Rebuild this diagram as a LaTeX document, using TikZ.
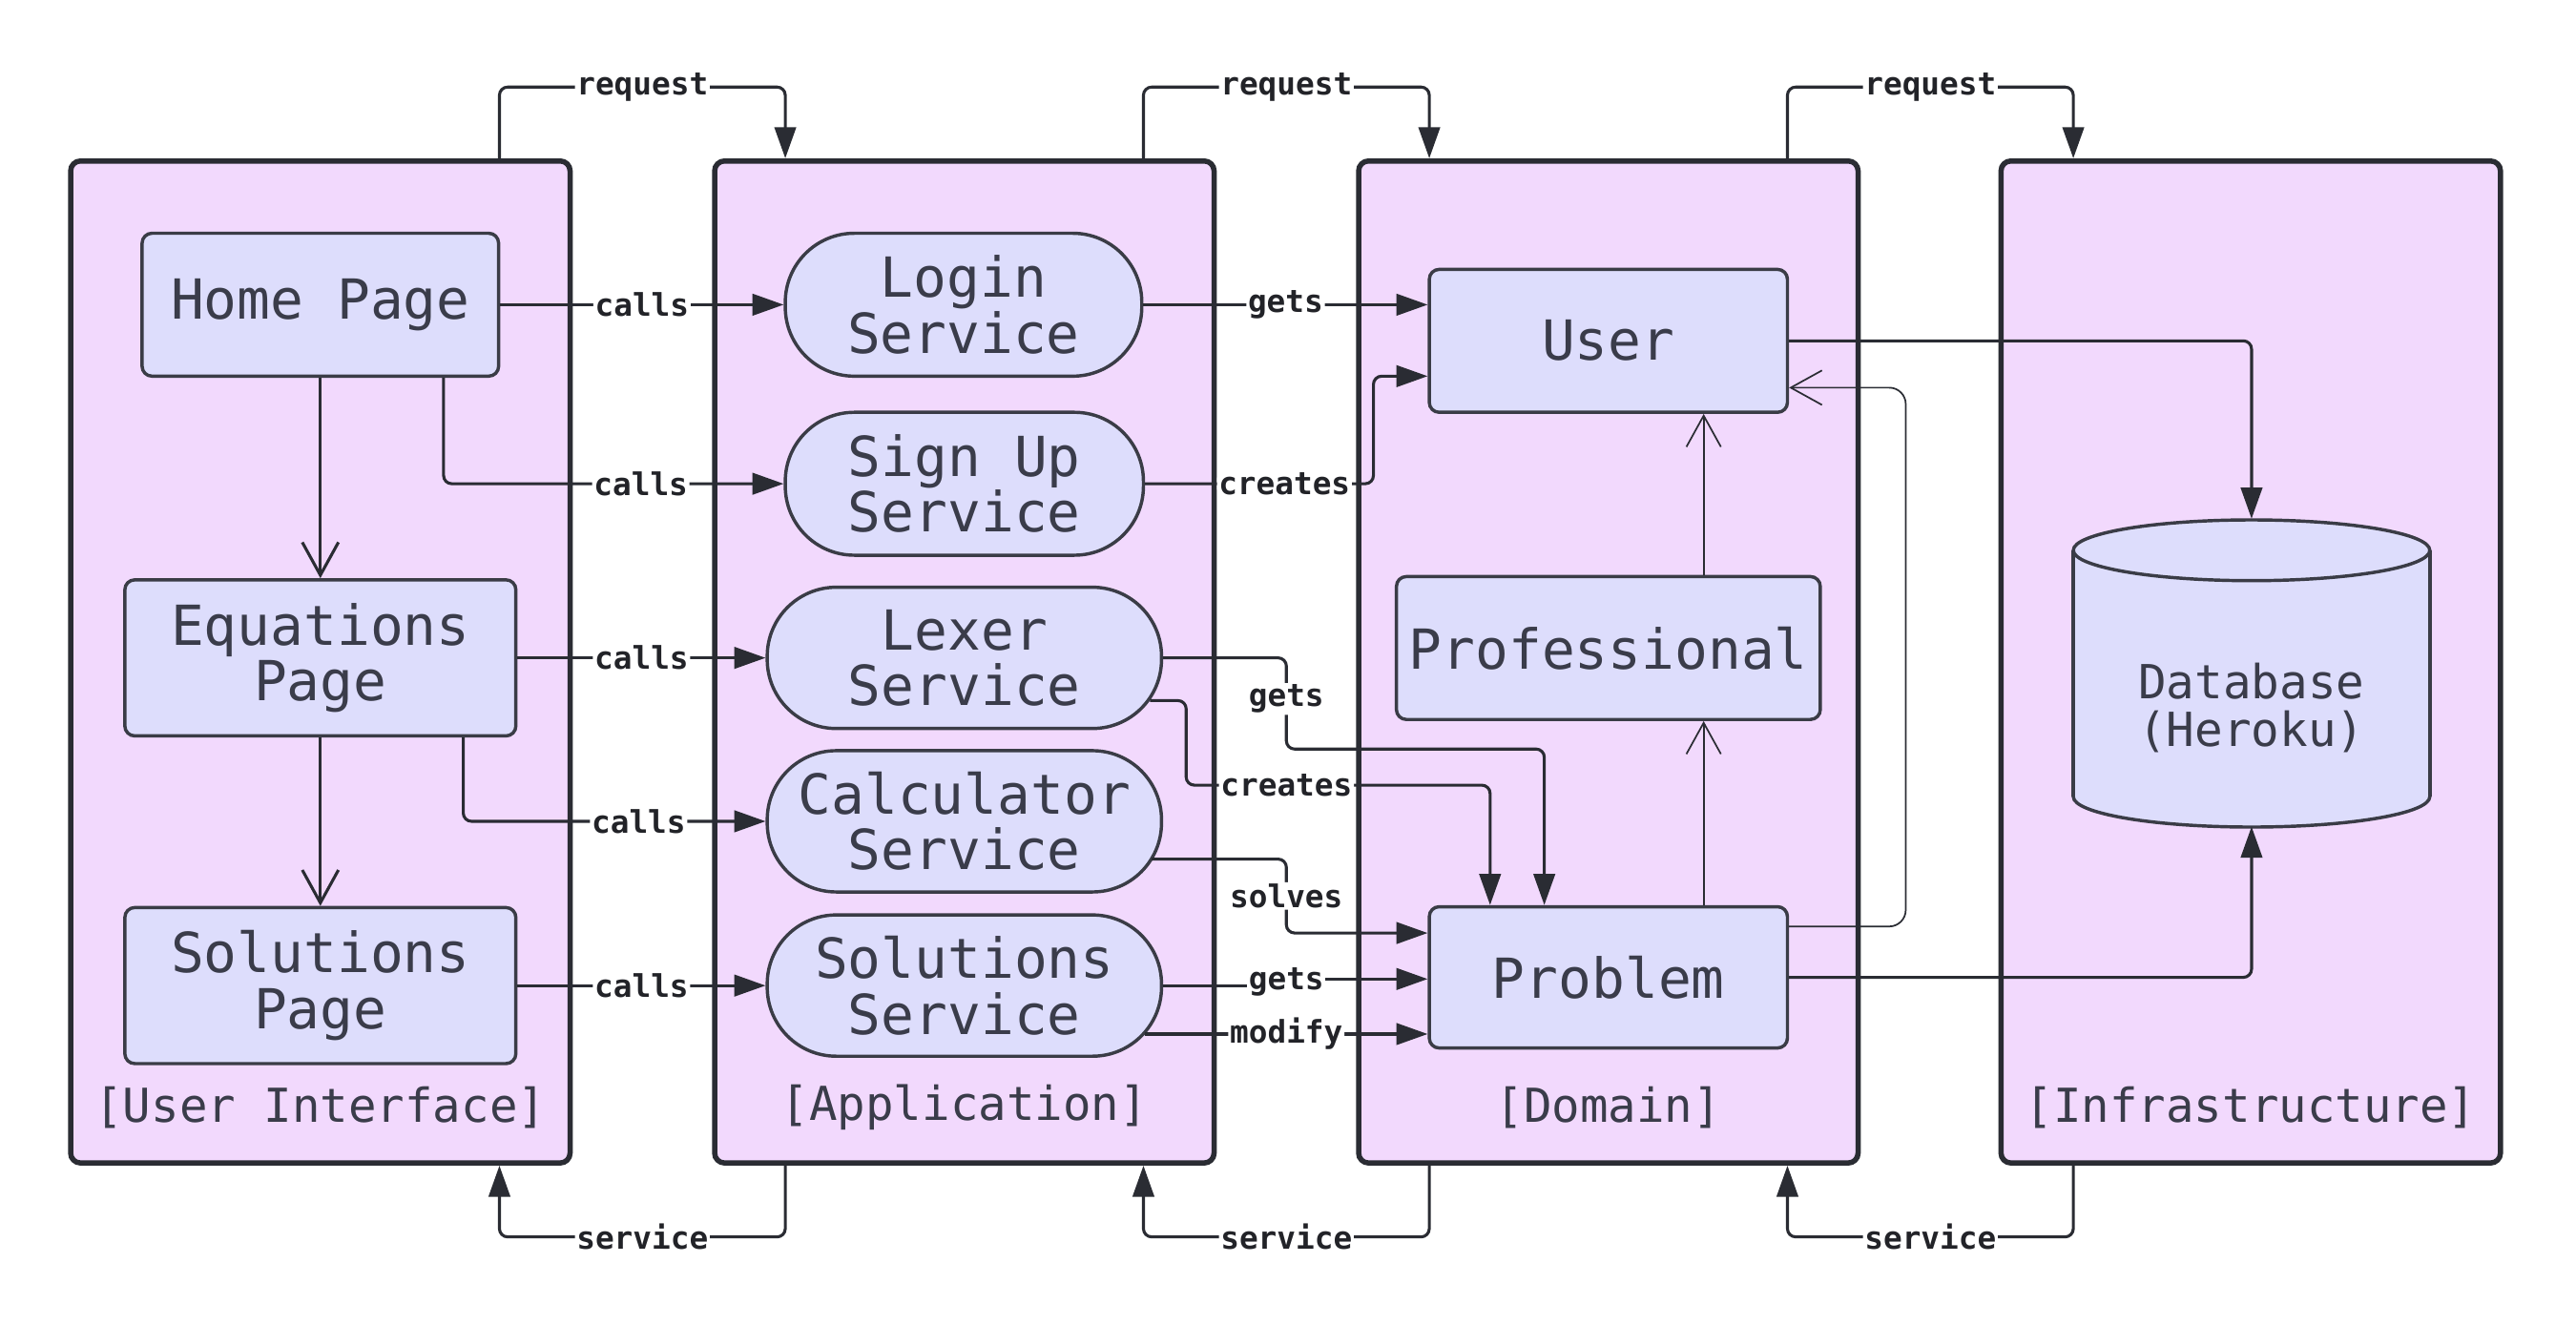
\documentclass[tikz,border=0pt]{standalone}
\usepackage{fontspec}
\usetikzlibrary{arrows.meta,calc}
\newfontfamily\dvsm{DejaVu Sans Mono}
\definecolor{contfill}{HTML}{F2D9FD}
\definecolor{nodefill}{HTML}{DDDDFC}
\definecolor{linec}{HTML}{2A2C33}
\definecolor{boxline}{HTML}{3A3C46}
\definecolor{txt}{HTML}{3A3C4A}
\definecolor{lblc}{HTML}{222328}
\newcommand\nodefnt{\dvsm\fontsize{33.6}{34}\selectfont}
\newcommand\lblfnt{\dvsm\bfseries\fontsize{19}{19}\selectfont}
\newcommand\contfnt{\dvsm\fontsize{28.5}{30}\selectfont}
\newcommand\dbfnt{\dvsm\fontsize{28.6}{29}\selectfont}
\tikzset{
  container/.style={draw=linec, line width=3.2pt, fill=contfill, rounded corners=6pt, inner sep=0pt, minimum width=304pt, minimum height=610pt},
  ctitle/.style={font=\contfnt, text=txt, inner sep=0pt},
  box/.style={draw=boxline, line width=2pt, fill=nodefill, rounded corners=6pt, inner sep=0pt, align=center, font=\nodefnt, text=txt},
  pill/.style={box, rounded corners=42pt},
  conn/.style={draw=linec, line width=1.8pt, rounded corners=5pt, -{Triangle[length=19pt,width=13pt]}},
  lbl/.style={fill=white, inner sep=1pt, font=\lblfnt, text=lblc},
  opn/.style={draw=linec, line width=1.8pt, -{Straight Barb[length=20pt,width=22pt]}},
  thinopn/.style={draw=linec, line width=1pt, rounded corners=10pt, -{Straight Barb[length=19pt,width=21pt]}},
}
\begin{document}
\begin{tikzpicture}[x=1pt,y=-1pt]
\useasboundingbox (0,0) rectangle (1568,806.6);
% containers
\node[container] (ui) at (195,403) {};
\node[container] (app) at (587,403) {};
\node[container] (dom) at (979,403) {};
\node[container] (inf) at (1370,403) {};
\node[ctitle] (uit) at (195,674) {[User Interface]};
\node[ctitle] (appt) at (587,674) {[Application]};
\node[ctitle] (domt) at (979,674) {[Domain]};
\node[ctitle] (inft) at (1370,674) {[Infrastructure]};
% UI nodes
\node[box, minimum width=217pt, minimum height=87pt] (home) at (195,185.5) {Home Page};
\node[box, minimum width=238pt, minimum height=95pt] (eq) at (195,400.5) {Equations\\Page};
\node[box, minimum width=238pt, minimum height=95pt] (sol) at (195,600) {Solutions\\Page};
% application nodes
\node[pill, minimum width=217pt, minimum height=87pt] (login) at (586.5,185.5) {Login\\Service};
\node[pill, minimum width=218pt, minimum height=87pt] (signup) at (587,294.5) {Sign Up\\Service};
\node[pill, minimum width=240pt, minimum height=86pt] (lexer) at (587,400.5) {Lexer\\Service};
\node[pill, minimum width=240pt, minimum height=86pt] (calc) at (587,500) {Calculator\\Service};
\node[pill, minimum width=240pt, minimum height=86pt] (solsvc) at (587,600) {Solutions\\Service};
% domain nodes
\node[box, minimum width=218pt, minimum height=87pt] (user) at (979,207.5) {User};
\node[box, minimum width=258pt, minimum height=87pt] (prof) at (979,394.5) {Professional};
\node[box, minimum width=218pt, minimum height=86pt] (prob) at (979,595) {Problem};
% database cylinder
\fill[nodefill] (1262,335) rectangle (1479,485);
\fill[nodefill] (1370.5,335) ellipse [x radius=108.5, y radius=18.5];
\fill[nodefill] (1370.5,485) ellipse [x radius=108.5, y radius=18.5];
\draw[boxline, line width=2pt] (1370.5,335) ellipse [x radius=108.5, y radius=18.5];
\draw[boxline, line width=2pt] (1262,335) -- (1262,485);
\draw[boxline, line width=2pt] (1479,335) -- (1479,485);
\begin{scope}
\clip (1250,485) rectangle (1495,512);
\draw[boxline, line width=2pt] (1370.5,485) ellipse [x radius=108.5, y radius=18.5];
\end{scope}
\node[minimum width=217pt, minimum height=187pt, inner sep=0pt] (db) at (1370.5,409.5) {};
\node[font=\dbfnt, text=txt, align=center, inner sep=0pt] (dbtxt) at (1370.5,431) {Database\\(Heroku)};
% UI connectors
\draw[conn] (home.east) -- node[lbl]{calls} (login.west);
\draw[conn] (home.south -| 270,0) |- node[lbl,pos=0.79]{calls} (signup.west);
\draw[opn] (home.south) -- (eq.north);
\draw[conn] (eq.east) -- node[lbl]{calls} (lexer.west);
\draw[conn] (eq.south -| 282,0) |- node[lbl,pos=0.79]{calls} (calc.west);
\draw[opn] (eq.south) -- (sol.north);
\draw[conn] (sol.east) -- node[lbl]{calls} (solsvc.west);
% application connectors
\draw[conn] (login.east) -- node[lbl]{gets} (login.east -| user.west);
\draw[conn] (signup.east) -- node[lbl,pos=0.61]{creates} (signup.east -| 836,0) |- (user.west |- 0,229);
\draw[conn] (lexer.east) -- (783,400.5) -- node[lbl,pos=0.45]{gets} (783,456) -- (940,456) -- (prob.north -| 940,0);
\draw[conn] ($(lexer.east)+(-8,26)$) -- (722,426.5) -- (722,478) -- node[lbl,pos=0.33]{creates} (907,478) -- (prob.north -| 907,0);
\draw[conn] ($(calc.east)+(-7,23)$) -- (783,523) -- node[lbl]{solves} (783,568) -- (prob.west |- 0,568);
\draw[conn, sharp corners] (solsvc.east) -- (783,600) -- node[lbl]{gets} (783,596) -- (prob.west |- 0,596);
\draw[conn] ($(solsvc.east)+(-11,29.5)$) -- node[lbl]{modify} (prob.west |- 0,629.5);
% domain connectors
\draw[thinopn] (prof.north -| 1037,0) -- (user.south -| 1037,0);
\draw[thinopn] (prob.north -| 1037,0) -- (prof.south -| 1037,0);
\draw[thinopn] (prob.east |- 0,564) -- (1160,564) -- (1160,236) -- (user.east |- 0,236);
\draw[conn] (user.east) -| (db.north);
\draw[conn] (prob.east) -| (db.south);
% layer requests
\draw[conn] (ui.north -| 304,0) |- node[lbl,pos=0.75]{request} (478,53) -- (app.north -| 478,0);
\draw[conn] (app.north -| 696,0) |- node[lbl,pos=0.75]{request} (870,53) -- (dom.north -| 870,0);
\draw[conn] (dom.north -| 1088,0) |- node[lbl,pos=0.75]{request} (1262,53) -- (inf.north -| 1262,0);
% layer services
\draw[conn] (app.south -| 478,0) |- node[lbl,pos=0.75]{service} (304,753) -- (ui.south -| 304,0);
\draw[conn] (dom.south -| 870,0) |- node[lbl,pos=0.75]{service} (696,753) -- (app.south -| 696,0);
\draw[conn] (inf.south -| 1262,0) |- node[lbl,pos=0.75]{service} (1088,753) -- (dom.south -| 1088,0);
\end{tikzpicture}
\end{document}
